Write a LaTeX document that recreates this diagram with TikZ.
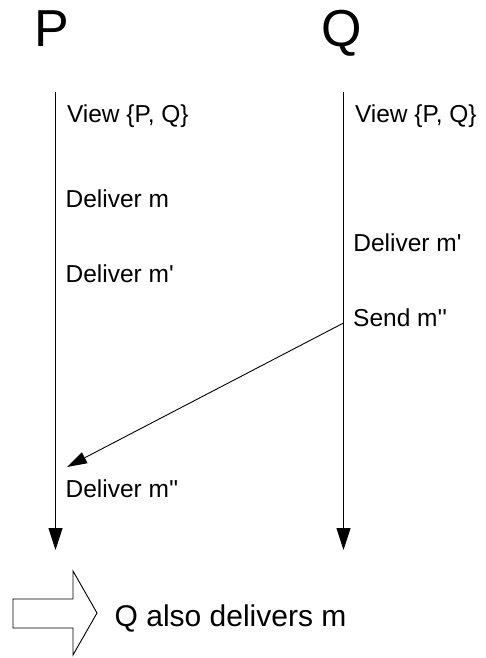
\documentclass[tikz,border=0pt]{standalone}
\usepackage{fontspec}
\setmainfont{Liberation Sans}
\usetikzlibrary{arrows.meta}
\newcommand{\sq}{\textquotesingle}
\begin{document}
\begin{tikzpicture}[x=1pt,y=-1pt,
  lbl/.style={anchor=base west,inner sep=0pt,font=\fontsize{24.5}{28}\selectfont},
  ttl/.style={anchor=base west,inner sep=0pt,font=\fontsize{52}{58}\selectfont},
  life/.style={line width=0.9pt,-{Triangle[length=22pt,width=14pt]}},
  msg/.style={line width=0.9pt,-{Triangle[length=20pt,width=12pt]}},
  blockarrow/.style={line width=0.9pt,draw=black,fill=white}]
\useasboundingbox (0,0) rectangle (486,658);
% titles
\node[ttl] (tP) at (34.2,46.7) {P};
\node[ttl] (tQ) at (321.5,46.7) {Q};
% lifelines
\coordinate (ptop) at (55.5,92);
\coordinate (pbot) at (55.5,550);
\coordinate (qtop) at (343.5,92);
\coordinate (qbot) at (343.5,550);
\draw[life] (ptop) -- (pbot);
\draw[life] (qtop) -- (qbot);
% P events
\node[lbl] (pv) at (66.8,123) {View \{P, Q\}};
\node[lbl] (pd1) at (65.4,207) {Deliver m};
\node[lbl] (pd2) at (65.4,282) {Deliver m\sq};
\node[lbl] (pd3) at (65.4,497) {Deliver m\sq\sq};
% Q events
\node[lbl] (qv) at (354.8,123) {View \{P, Q\}};
\node[lbl] (qd2) at (353.2,251) {Deliver m\sq};
\node[lbl] (qs) at (353,326) {Send m\sq\sq};
% message
\coordinate (send) at (343.5,323);
\coordinate (recv) at (67,467);
\draw[msg] (send) -- (recv);
% block arrow and conclusion
\draw[blockarrow] (13,599) -- (73,599) -- (73,571) -- (97,613) -- (73,655) -- (73,628) -- (13,628) -- cycle;
\node[anchor=base west,inner sep=0pt,font=\fontsize{30}{34}\selectfont] (concl) at (114.5,626) {Q also delivers m};
\end{tikzpicture}
\end{document}
